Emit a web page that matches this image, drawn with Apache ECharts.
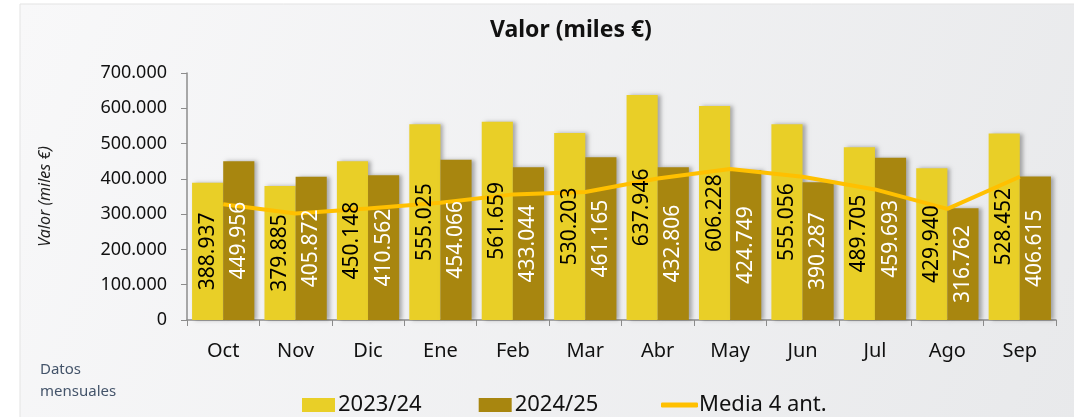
<!DOCTYPE html>
<html>
<head>
<meta charset="utf-8">
<script src="https://cdn.jsdelivr.net/npm/echarts@6/dist/echarts.min.js"></script>
<style>
  html, body { margin: 0; padding: 0; background: #fff; }
  #valor { width: 1074px; height: 417px; }
</style>
</head>
<body>
<div id="valor"></div>
<script>
var meses = ['Oct', 'Nov', 'Dic', 'Ene', 'Feb', 'Mar', 'Abr', 'May', 'Jun', 'Jul', 'Ago', 'Sep'];
var valor2324 = [388937, 379885, 450148, 555025, 561659, 530203, 637946, 606228, 555056, 489705, 429940, 528452];
var valor2425 = [449956, 405872, 410562, 454066, 433044, 461165, 432806, 424749, 390287, 459693, 316762, 406615];
var media4 = [328000, 302000, 316000, 332000, 356000, 363000, 401000, 428000, 406000, 370000, 315000, 406000];

var font = '"Noto Sans", sans-serif';

function miles(v) {
    return String(v).replace(/\B(?=(\d{3})+(?!\d))/g, '.');
}

// etiquetas por encima de la linea: barras transparentes en un eje x oculto
function etiquetas(data, color) {
    return {
        type: 'bar',
        xAxisIndex: 1,
        data: data,
        barGap: '0%',
        barCategoryGap: '14%',
        z: 10,
        silent: true,
        itemStyle: { color: 'rgba(0,0,0,0)' },
        label: {
            show: true,
            position: 'inside',
            rotate: 90,
            fontSize: 21,
            color: color,
            formatter: function (p) { return miles(p.value); }
        }
    };
}

var sombra = { shadowColor: 'rgba(0,0,0,0.3)', shadowBlur: 4, shadowOffsetX: 3 };

var myChart = echarts.init(document.getElementById('valor'));
myChart.setOption({
    animation: false,
    textStyle: { fontFamily: font },
    graphic: [
        {
            type: 'rect',
            z: -10,
            shape: { x: 20, y: 4, width: 1060, height: 420 },
            style: {
                fill: new echarts.graphic.LinearGradient(0, 0, 1, 1, [
                    { offset: 0, color: '#f8f8f9' },
                    { offset: 1, color: '#e8e9eb' }
                ]),
                stroke: '#e3e3e3'
            }
        },
        {
            type: 'text',
            left: 40,
            top: 359,
            style: {
                text: 'Datos\nmensuales',
                fill: '#44546a',
                font: '15px ' + font,
                lineHeight: 22
            }
        }
    ],
    title: {
        text: 'Valor (miles €)',
        left: 485,
        top: 14,
        textStyle: { fontSize: 23, fontWeight: 'bold', color: '#111', fontFamily: font }
    },
    legend: [
        {
            left: 297,
            top: 389,
            itemWidth: 33,
            itemHeight: 14,
            itemGap: 57,
            icon: 'rect',
            textStyle: { fontSize: 22, color: '#111', padding: [0, 0, 0, -2] },
            data: ['2023/24', '2024/25']
        },
        {
            left: 656,
            top: 389,
            itemWidth: 37,
            itemHeight: 5,
            icon: 'roundRect',
            textStyle: { fontSize: 22, color: '#111', padding: [0, 0, 0, -4] },
            data: ['Media 4 ant.']
        }
    ],
    grid: { left: 187, right: 18, top: 73, bottom: 97 },
    xAxis: [
        {
            type: 'category',
            data: meses,
            axisLine: { lineStyle: { color: '#8c8c8c', width: 1.5 } },
            axisTick: { show: true, length: 6, lineStyle: { color: '#8c8c8c' } },
            axisLabel: { fontSize: 20, color: '#111', margin: 21 }
        },
        {
            type: 'category',
            data: meses,
            show: false
        }
    ],
    yAxis: {
        type: 'value',
        min: 0,
        max: 700000,
        interval: 100000,
        name: 'Valor (miles €)',
        nameLocation: 'middle',
        nameRotate: 90,
        nameGap: 134,
        nameTextStyle: { fontSize: 16, fontStyle: 'italic', color: '#222' },
        splitLine: { show: false },
        axisLine: { show: true, lineStyle: { color: '#8c8c8c', width: 1.5 } },
        axisTick: { show: true, length: 6, lineStyle: { color: '#8c8c8c' } },
        axisLabel: { fontSize: 18, color: '#111', margin: 20, formatter: miles }
    },
    series: [
        {
            name: '2023/24',
            type: 'bar',
            data: valor2324,
            barGap: '0%',
            barCategoryGap: '14%',
            itemStyle: Object.assign({ color: '#e9cf27' }, sombra)
        },
        {
            name: '2024/25',
            type: 'bar',
            data: valor2425,
            itemStyle: Object.assign({ color: '#a8860f' }, sombra)
        },
        {
            name: 'Media 4 ant.',
            type: 'line',
            data: media4,
            symbol: 'none',
            z: 5,
            itemStyle: { color: '#ffc000' },
            lineStyle: { color: '#ffc000', width: 4 }
        },
        etiquetas(valor2324, '#000'),
        etiquetas(valor2425, '#fff')
    ]
});
window.addEventListener('resize', function () {
    myChart.resize();
});
</script>
</body>
</html>
